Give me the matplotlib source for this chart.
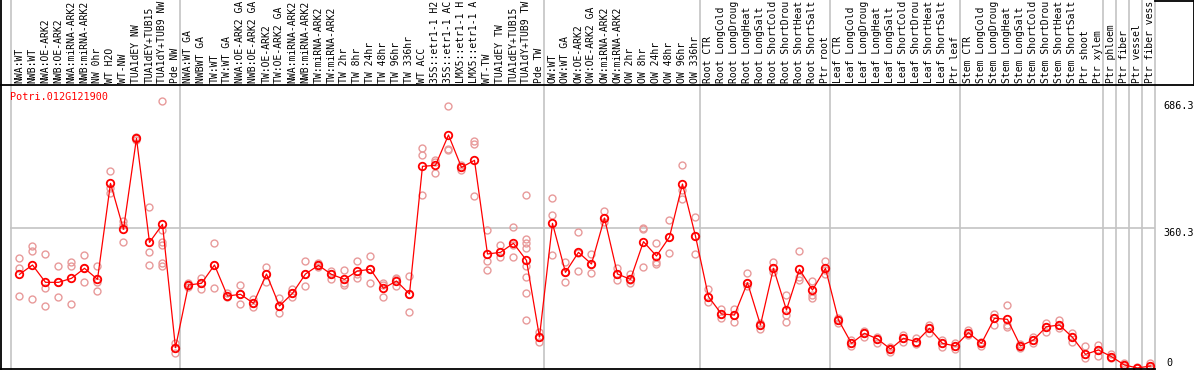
import matplotlib
matplotlib.use("Agg")
import matplotlib.pyplot as plt
import matplotlib.transforms as mtransforms
from matplotlib.lines import Line2D

# sample names (header labels)
samples = ['NWA:WT', 'NWB:WT', 'NWA:OE-ARK2', 'NWB:OE-ARK2', 'NWA:miRNA-ARK2', 'NWB:miRNA-ARK2',
           'NW 0hr', 'WT H2O', 'WT-NW', 'TUA1dEY NW', 'TUA1dEY+TUB15', 'TUA1dY+TUB9 NW', 'Pde NW',
           'NWA:WT GA', 'NWBWT GA', 'TW:WT', 'TW:WT GA', 'NWA:OE-ARK2 GA', 'NWB:OE-ARK2 GA',
           'TW:OE-ARK2', 'TW:OE-ARK2 GA', 'NWA:miRNA-ARK2', 'NWB:miRNA-ARK2', 'TW:miRNA-ARK2',
           'TW:miRNA-ARK2', 'TW 2hr', 'TW 8hr', 'TW 24hr', 'TW 48hr', 'TW 96hr', 'TW 336hr',
           'WT ACC', '35S::etr1-1 H2', '35S::etr1-1 AC', 'LMX5::etr1-1 H', 'LMX5::etr1-1 A',
           'WT-TW', 'TUA1dEY TW', 'TUA1dEY+TUB15', 'TUA1dY+TUB9 TW', 'Pde TW',
           'OW:WT', 'OW:WT GA', 'OW:OE-ARK2', 'OW:OE-ARK2 GA', 'OW:miRNA-ARK2', 'OW:miRNA-ARK2',
           'OW 2hr', 'OW 8hr', 'OW 24hr', 'OW 48hr', 'OW 96hr', 'OW 336hr',
           'Root CTR', 'Root LongCold', 'Root LongDroug', 'Root LongHeat', 'Root LongSalt',
           'Root ShortCold', 'Root ShortDrou', 'Root ShortHeat', 'Root ShortSalt', 'Ptr root',
           'Leaf CTR', 'Leaf LongCold', 'Leaf LongDroug', 'Leaf LongHeat', 'Leaf LongSalt',
           'Leaf ShortCold', 'Leaf ShortDrou', 'Leaf ShortHeat', 'Leaf ShortSalt', 'Ptr leaf',
           'Stem CTR', 'Stem LongCold', 'Stem LongDroug', 'Stem LongHeat', 'Stem LongSalt',
           'Stem ShortCold', 'Stem ShortDrou', 'Stem ShortHeat', 'Stem ShortSalt',
           'Ptr shoot', 'Ptr xylem', 'Ptr phloem', 'Ptr fiber', 'Ptr vessel', 'Ptr fiber vess']

# mean expression per sample
means = [240.5, 264.5, 220.0, 220.0, 230.3, 256.0, 227.7, 474.2, 356.1, 589.8, 322.7, 368.9, 52.2,
         213.1, 217.4, 264.5, 184.9, 189.2, 166.1, 241.4, 159.2, 191.7, 241.4, 263.7, 240.5,
         227.7, 249.1, 253.4, 204.6, 223.4, 190.0, 517.9, 520.5, 598.4, 515.3, 533.3,
         292.8, 297.0, 320.2, 276.5, 79.6, 371.5, 245.7, 297.0, 267.1, 385.2, 241.4,
         227.7, 324.4, 287.6, 336.4, 472.5, 339.0,
         183.2, 138.7, 136.1, 219.1, 110.4, 256.0, 148.9, 253.4, 200.3, 256.0,
         123.3, 63.3, 89.0, 74.5, 48.8, 76.2, 67.6, 101.9, 63.3, 56.5,
         90.7, 63.3, 127.5, 125.0, 56.5, 71.9, 106.1, 110.4, 78.8,
         35.1, 46.2, 29.1, 7.7, 0.0, 5.1]

# individual replicates per sample
replicates = [
    [281.6, 256.0, 184.9], [314.2, 301.3, 176.3], [291.9, 206.3, 158.4], [261.1, 220.0, 181.5],
    [271.4, 262.8, 164.4], [289.3, 256.0, 220.0], [262.8, 220.0, 196.9], [505.9, 463.1, 450.3],
    [377.5, 367.2, 322.7], [594.0, 590.0, 586.0], [412.6, 297.0, 263.7],
    [686.3, 354.4, 324.4, 315.9, 270.5, 262.0], [63.3, 52.2, 37.7],
    [217.4, 213.1, 208.9], [232.0, 217.4, 202.9], [320.2, 264.5, 204.6], [191.7, 184.9, 181.5],
    [212.3, 189.2, 164.4], [176.3, 166.1, 155.8], [259.4, 241.4, 221.7], [178.9, 159.2, 140.4],
    [202.0, 191.7, 181.5], [273.9, 241.4, 210.6], [268.8, 263.7, 258.5], [250.0, 240.5, 227.7],
    [250.8, 217.4, 213.1], [273.9, 241.4, 230.3], [287.6, 253.4, 217.4], [219.1, 213.1, 181.5],
    [232.0, 227.7, 211.4], [236.3, 190.0, 143.0], [565.0, 547.9, 443.4], [535.0, 529.9, 501.6],
    [672.8, 561.5, 560.7], [521.3, 515.3, 508.5], [583.0, 575.3, 441.7],
    [354.4, 275.6, 250.8], [315.0, 297.0, 285.9], [361.2, 315.9, 284.2],
    [443.4, 331.3, 320.2, 307.3, 261.9, 232.8, 191.7, 123.3], [91.6, 79.6, 65.9],
    [436.6, 392.0, 290.2], [271.4, 245.7, 220.0], [348.4, 295.3, 248.2], [291.9, 267.1, 244.0],
    [402.3, 385.2, 375.8], [256.0, 241.4, 226.0], [240.5, 226.0, 217.4], [360.4, 357.0, 259.4],
    [321.9, 273.1, 267.1], [380.1, 336.4, 294.5], [520.5, 457.1, 433.1], [387.8, 339.0, 292.8],
    [202.0, 183.2, 170.3], [151.5, 138.7, 127.5], [151.5, 136.1, 117.3], [244.0, 217.4, 210.6],
    [114.7, 110.4, 99.3], [271.4, 256.0, 247.4], [187.5, 136.1, 117.3], [299.6, 232.8, 226.0],
    [223.4, 187.5, 178.9], [273.9, 251.7, 241.4],
    [127.5, 123.3, 114.7], [71.9, 63.3, 56.5], [95.9, 89.0, 80.5], [80.5, 74.5, 63.3],
    [54.8, 48.8, 41.9], [84.7, 76.2, 67.6], [76.2, 67.6, 61.6], [110.4, 101.9, 89.0],
    [71.9, 63.3, 53.1], [63.3, 56.5, 47.9],
    [97.6, 90.7, 84.7], [67.6, 63.3, 56.5], [138.7, 127.5, 110.4], [161.8, 110.4, 104.4],
    [61.6, 56.5, 50.5], [80.5, 71.9, 65.1], [114.7, 106.1, 93.3], [123.3, 110.4, 101.9],
    [89.0, 78.8, 65.9],
    [56.5, 35.1, 24.8], [59.1, 46.2, 31.7], [35.1, 29.1, 24.8], [12.0, 7.7, 3.4],
    [1.7, 0.0, 0.0], [12.0, 5.1, 0.0]]

# group separators drawn after these sample indices
group_ends = [-1, 12, 40, 52, 62, 72, 83, 84, 85, 86, 87]
y_marks = [686.3, 360.3, 0]
gene = 'Potri.012G121900'

mono = 'DejaVu Sans Mono'
red = '#FF0000'
pink = '#E89A9A'
grid_gray = '#C4C4C4'

W, H = 1194, 370
fig = plt.figure(figsize=(W / 100, H / 100), dpi=100)
fig.set_facecolor('white')

# plot box in pixels: x 10..1155, y 85..369
ax = fig.add_axes([10 / W, 1 / H, 1145 / W, 284 / H])
ax.set_xlim(-0.73, 87.35)
ax.set_ylim(-2.6, 726.8)
for s in ax.spines.values():
    s.set_visible(False)

# header labels on top
ax.xaxis.tick_top()
ax.set_xticks(range(len(samples)))
ax.set_xticklabels(samples, rotation=90, family=mono, fontsize=7, color='black')
ax.tick_params(axis='x', length=0, pad=1.5)
ax.set_yticks([])

# grid lines
for g in group_ends:
    ax.axvline(g + 0.35, ymin=-0.01, ymax=1.31, color=grid_gray, lw=1.2, clip_on=False, zorder=0)
ax.axhline(360.3, color=grid_gray, lw=1.2, zorder=0)

# replicates
for i, reps in enumerate(replicates):
    ax.plot([i] * len(reps), reps, 'o', mfc='none', mec=pink, ms=5.0, mew=1.0, zorder=2)

# mean line
ax.plot(range(len(means)), means, '-o', color=red, lw=0.9, mfc='none', mec=red,
        ms=5.4, mew=1.3, zorder=3)

# value marks on right
trans = mtransforms.blended_transform_factory(ax.transAxes, ax.transData)
ax.text(1.007, y_marks[0], '686.3', transform=trans, family=mono, fontsize=7.3, va='top', ha='left')
ax.text(1.007, y_marks[1], '360.3', transform=trans, family=mono, fontsize=7.3, va='top', ha='left')
ax.text(1.0095, y_marks[2], '0', transform=trans, family=mono, fontsize=7.3, va='bottom', ha='left')

# gene name
ax.text(0.0, 0.958, gene, transform=ax.transAxes, family=mono, fontsize=7.3, color=red,
        va='center', ha='left')

# frame lines
def fline(x0, y0, x1, y1):
    fig.add_artist(Line2D([x0 / W, x1 / W], [1 - y0 / H, 1 - y1 / H], color='black', lw=1.3))

fline(0, 85, W, 85)
fline(0.5, 0, 0.5, H)
fline(0, H - 1, 1155, H - 1)
fline(1155, 0.5, W, 0.5)
fline(W - 0.5, 0, W - 0.5, 85)

fig.savefig('out.png', dpi=100)
